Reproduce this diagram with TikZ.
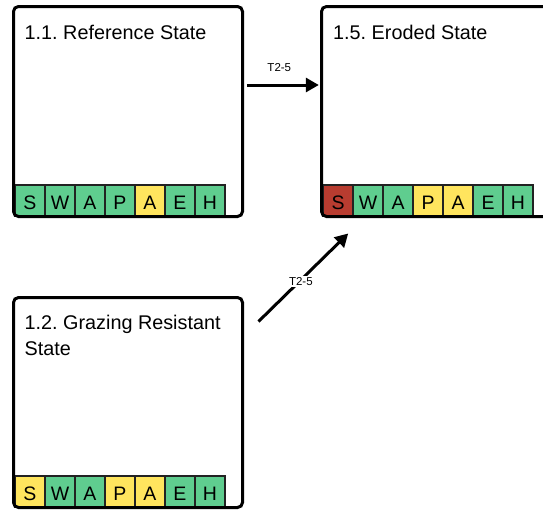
\documentclass[tikz,border=0pt]{standalone}
\usepackage{fontspec}
\setmainfont{Liberation Sans}
\usetikzlibrary{arrows.meta,calc}
\frenchspacing

\definecolor{cgreen}{HTML}{5FCD8F}
\definecolor{cyellow}{HTML}{FFE55E}
\definecolor{cred}{HTML}{B83C30}
\definecolor{cedge}{HTML}{222222}

\begin{document}
\begin{tikzpicture}[x=1pt,y=-1pt,
  statebox/.style={fill=white, line width=3pt, minimum width=229pt,
    minimum height=210pt, inner sep=0pt, outer sep=0pt},
  boxline/.style={draw=black, line width=3pt, rounded corners=5pt},
  title/.style={anchor=base west, inner sep=0pt, align=left,
    font=\fontsize{19.8}{26}\selectfont},
  cell/.style={draw=cedge, line width=2pt, minimum width=30pt,
    minimum height=31pt, inner sep=0pt, text height=17pt, text depth=0pt,
    font=\fontsize{19.5}{22}\selectfont},
  trans/.style={line width=3pt, -{Triangle[length=13pt,width=14pt]}},
  tlabel/.style={font=\fontsize{11.5}{13}\selectfont, inner sep=1.5pt}
]
\useasboundingbox (0,0) rectangle (543,509);
\clip (0,0) rectangle (543,509);

% state boxes
\node[statebox] (s11) at (128,111.5) {};
\node[statebox] (s15) at (436,111.5) {};
\node[statebox] (s12) at (128,402.5) {};

% indicator strips along the bottom of each box
\foreach \l/\c [count=\i from 0] in {S/cgreen,W/cgreen,A/cgreen,P/cgreen,A/cyellow,E/cgreen,H/cgreen}
  \node[cell, fill=\c] (s11-c\i) at ($(s11.south west)+(16.5+30*\i,-16)$) {\l};
\foreach \l/\c [count=\i from 0] in {S/cred,W/cgreen,A/cgreen,P/cyellow,A/cyellow,E/cgreen,H/cgreen}
  \node[cell, fill=\c] (s15-c\i) at ($(s15.south west)+(16.5+30*\i,-16)$) {\l};
\foreach \l/\c [count=\i from 0] in {S/cyellow,W/cgreen,A/cgreen,P/cyellow,A/cyellow,E/cgreen,H/cgreen}
  \node[cell, fill=\c] (s12-c\i) at ($(s12.south west)+(16.5+30*\i,-16)$) {\l};

% box outlines on top of the strips
\foreach \b in {s11,s15,s12}
  \draw[boxline] (\b.south west) rectangle (\b.north east);

% titles (base of a two-line title is its last line)
\node[title] (t11) at ($(s11.north west)+(11,32.5)$) {1.1. Reference State};
\node[title] (t15) at ($(s15.north west)+(11.5,32.5)$) {1.5. Eroded State};
\node[title] (t12) at ($(s12.north west)+(11,57.8)$) {1.2. Grazing Resistant\\State};

% transitions
\draw[trans] ([xshift=4.3pt,yshift=26.5pt]s11.east) -- ([xshift=-2.7pt,yshift=26.5pt]s15.west)
  node[tlabel, midway, anchor=base, xshift=-3.5pt, yshift=13.5pt] {T2-5};
\draw[trans] ($(s12.north east)+(16,24)$) -- ($(s15.south west)+(26.7,17)$)
  node[tlabel, fill=white, pos=0.45, xshift=2pt] {T2-5};
\end{tikzpicture}
\end{document}
